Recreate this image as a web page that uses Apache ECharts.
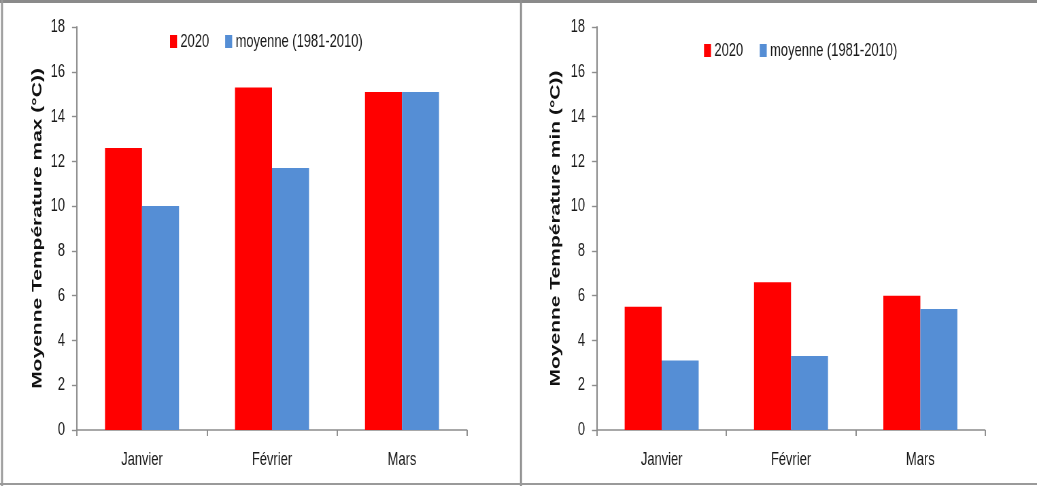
<!DOCTYPE html>
<html>
<head>
<meta charset="utf-8">
<script src="https://cdn.jsdelivr.net/npm/echarts@6/dist/echarts.min.js"></script>
<style>
html,body{margin:0;padding:0;background:#fff;overflow:hidden;}
#wrap{width:1037px;height:486px;overflow:hidden;position:relative;}
#c{height:486px;transform-origin:0 0;position:absolute;left:0;top:0;}
</style>
</head>
<body>
<div id="wrap"><div id="c"></div></div>
<script>
var categories = ['Janvier', 'Février', 'Mars'];
var seriesNames = ['2020', 'moyenne (1981-2010)'];
var maxTemp2020 = [12.6, 15.3, 15.1];
var maxTempNormal = [10.0, 11.7, 15.1];
var minTemp2020 = [5.5, 6.6, 6.0];
var minTempNormal = [3.1, 3.3, 5.4];
var yTitles = ['Moyenne Température max (°C))', 'Moyenne Température min (°C))'];

// horizontal condensation of the original picture
var S = 0.68;
function X(v) { return v / S; }

var el = document.getElementById('c');
el.style.width = X(1037) + 'px';
el.style.transform = 'scaleX(' + S + ')';

var RED = '#FF0000', BLUE = '#558ED5', AX = '#8c8c8c';
var FONT = '"Liberation Sans", Arial, sans-serif';
var tickFont = {fontFamily: FONT, fontSize: 19, color: '#1a1a1a'};

function xAx(gi) {
  return {
    type: 'category', gridIndex: gi, data: categories,
    axisLine: {lineStyle: {color: AX, width: 1.5}},
    axisTick: {show: true, length: 6, lineStyle: {color: AX, width: X(1.3)}},
    axisLabel: Object.assign({margin: 20}, tickFont)
  };
}
function yAx(gi, name, gap) {
  return {
    type: 'value', gridIndex: gi, min: 0, max: 18, interval: 2,
    name: name, nameLocation: 'middle', nameRotate: 90, nameGap: X(gap),
    nameTextStyle: {fontFamily: FONT, fontWeight: 'bold', fontSize: 21, color: '#111'},
    axisLine: {show: true, lineStyle: {color: AX, width: X(1.4)}},
    axisTick: {show: true, length: X(5), lineStyle: {color: AX, width: 1.4}},
    splitLine: {show: false},
    axisLabel: Object.assign({margin: X(12)}, tickFont)
  };
}
function bar(name, data, color, gi) {
  return {
    type: 'bar', name: name, data: data, xAxisIndex: gi, yAxisIndex: gi,
    barWidth: X(37), barGap: '0%', itemStyle: {color: color}, emphasis: {disabled: true}
  };
}
function legend(left, top, gap, suffix) {
  return {
    left: X(left), top: top, padding: 0, itemWidth: X(7), itemHeight: 13, itemGap: X(gap),
    textStyle: {fontFamily: FONT, fontSize: 19, color: '#1a1a1a'},
    data: [{name: seriesNames[0] + suffix, icon: 'rect'}, {name: seriesNames[1] + suffix, icon: 'rect'}]
  };
}

var chart = echarts.init(el, null, {renderer: 'canvas'});
chart.setOption({
  animation: false,
  backgroundColor: '#fff',
  grid: [
    {left: X(77), top: 27, width: X(390), height: 403},
    {left: X(597), top: 27, width: X(388), height: 403}
  ],
  legend: [legend(170, 32, 16, ''), legend(704, 41, 13, ' ')],
  xAxis: [xAx(0), xAx(1)],
  yAxis: [yAx(0, yTitles[0], 32), yAx(1, yTitles[1], 34)],
  series: [
    bar(seriesNames[0], maxTemp2020, RED, 0),
    bar(seriesNames[1], maxTempNormal, BLUE, 0),
    bar(seriesNames[0] + ' ', minTemp2020, RED, 1),
    bar(seriesNames[1] + ' ', minTempNormal, BLUE, 1)
  ],
  graphic: [
    {type: 'rect', shape: {x: 0, y: 0, width: X(1037), height: 3}, style: {fill: '#8a8a8a'}, silent: true},
    {type: 'rect', shape: {x: X(1), y: 0, width: X(2), height: 486}, style: {fill: '#9a9a9a'}, silent: true},
    {type: 'rect', shape: {x: X(520), y: 0, width: X(2), height: 486}, style: {fill: '#8f8f8f'}, silent: true},
    {type: 'rect', shape: {x: 0, y: 483, width: X(1037), height: 2}, style: {fill: '#9a9a9a'}, silent: true}
  ]
});
</script>
</body>
</html>
